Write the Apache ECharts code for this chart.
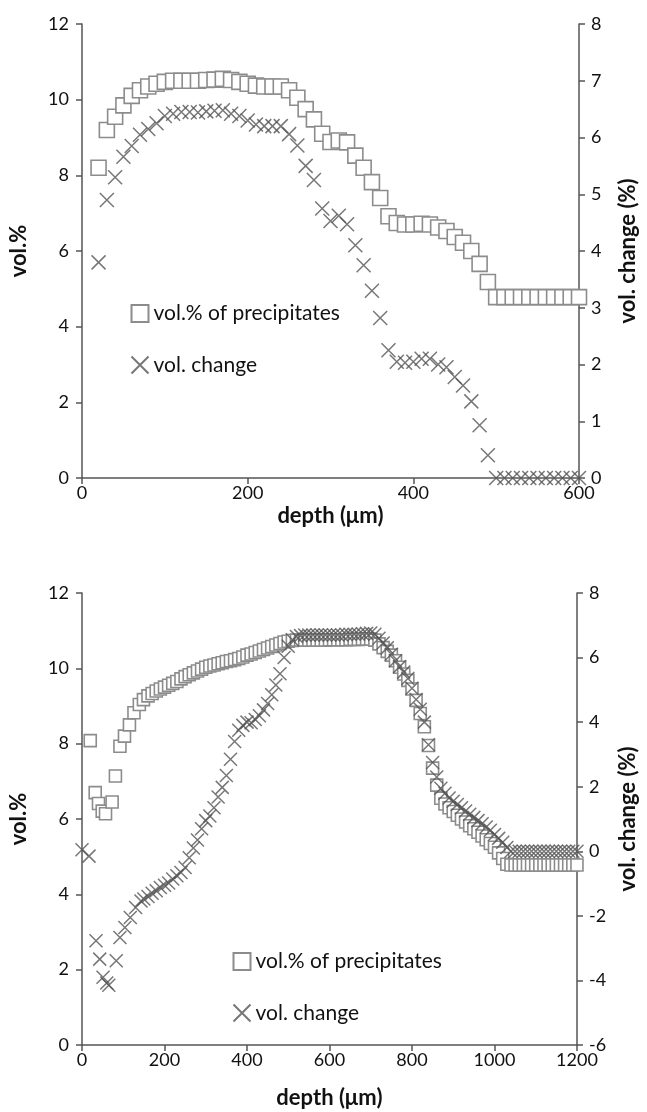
<!DOCTYPE html>
<html>
<head>
<meta charset="utf-8">
<script src="https://cdn.jsdelivr.net/npm/echarts@6/dist/echarts.min.js"></script>
<style>
html,body{margin:0;padding:0;background:#fff;}
#c{width:647px;height:1112px;}
</style>
</head>
<body>
<div id="c"></div>
<script>
// ---------- top chart data ----------
var topDepth = [20,30,40,50,60,70,80,90,100,110,120,130,140,150,160,170,180,190,200,210,220,230,240,250,260,270,280,290,300,310,320,330,340,350,360,370,380,390,400,410,420,430,440,450,460,470,480,490,500,510,520,530,540,550,560,570,580,590,600];
var topVol = [8.2,9.2,9.55,9.85,10.1,10.25,10.35,10.42,10.47,10.5,10.5,10.5,10.5,10.52,10.53,10.55,10.52,10.47,10.42,10.37,10.35,10.35,10.35,10.25,10.05,9.75,9.48,9.1,8.88,8.92,8.87,8.52,8.2,7.82,7.4,6.92,6.74,6.7,6.7,6.72,6.7,6.62,6.53,6.37,6.22,6.0,5.66,5.18,4.78,4.78,4.78,4.78,4.78,4.78,4.78,4.78,4.78,4.78,4.78];
var topChange = [3.8,4.9,5.3,5.66,5.85,6.05,6.15,6.25,6.38,6.42,6.45,6.45,6.44,6.46,6.47,6.48,6.42,6.38,6.3,6.23,6.2,6.2,6.2,6.06,5.86,5.5,5.25,4.75,4.53,4.62,4.47,4.1,3.75,3.3,2.82,2.25,2.05,2.03,2.05,2.1,2.1,2.0,1.95,1.78,1.63,1.35,0.93,0.4,0,0,0,0,0,0,0,0,0,0,0];

// ---------- bottom chart data ----------
var botVolDepth = [20,32,40,49,57,73,81,92,103,115,126,139,149,160,170,180,190,200,210,220,230,240,250,260,270,280,290,300,310,320,330,340,350,360,370,380,390,400,410,420,430,440,450,460,470,480,490,500,510,520,530,540,550,560,570,580,590,600,610,620,630,640,650,660,670,680,690,700,710,720,730,740,750,760,770,780,790,800,810,820,830,840,850,860,870,880,890,900,910,920,930,940,950,960,970,980,990,1000,1010,1020,1030,1040,1050,1060,1070,1080,1090,1100,1110,1120,1130,1140,1150,1160,1170,1180,1190,1200];
var botVol = [8.08,6.7,6.41,6.21,6.14,6.45,7.14,7.93,8.2,8.5,8.82,9.04,9.17,9.27,9.33,9.4,9.45,9.5,9.55,9.6,9.65,9.72,9.78,9.83,9.88,9.93,9.98,10.03,10.06,10.09,10.12,10.15,10.18,10.2,10.23,10.26,10.3,10.35,10.38,10.42,10.46,10.5,10.54,10.58,10.62,10.66,10.7,10.72,10.74,10.75,10.75,10.75,10.75,10.75,10.75,10.75,10.75,10.76,10.76,10.76,10.76,10.76,10.77,10.77,10.77,10.78,10.78,10.78,10.75,10.65,10.55,10.45,10.35,10.2,10.03,9.85,9.68,9.45,9.15,8.8,8.45,7.95,7.35,6.9,6.55,6.4,6.3,6.2,6.1,6.0,5.92,5.82,5.74,5.65,5.55,5.45,5.35,5.25,5.1,4.95,4.8,4.78,4.78,4.78,4.78,4.78,4.78,4.78,4.78,4.78,4.78,4.78,4.78,4.78,4.78,4.78,4.78,4.78];
var botChangeDepth = [0,17,34,43,51,60,65,83,92,104,117,130,143,150,160,170,180,190,200,210,220,230,240,250,260,270,280,290,300,310,320,330,340,350,360,370,380,390,400,410,420,430,440,450,460,470,480,490,500,510,520,530,540,550,560,570,580,590,600,610,620,630,640,650,660,670,680,690,700,710,720,730,740,750,760,770,780,790,800,810,820,830,840,850,860,870,880,890,900,910,920,930,940,950,960,970,980,990,1000,1010,1020,1030,1040,1050,1060,1070,1080,1090,1100,1110,1120,1130,1140,1150,1160,1170,1180,1190,1200];
var botChange = [0.05,-0.15,-2.77,-3.34,-3.9,-4.08,-4.15,-3.39,-2.67,-2.36,-2.05,-1.74,-1.54,-1.48,-1.4,-1.3,-1.22,-1.12,-1.05,-0.98,-0.86,-0.76,-0.66,-0.5,-0.2,0.1,0.35,0.7,0.95,1.09,1.35,1.68,1.98,2.35,2.85,3.4,3.75,3.9,4.0,3.98,4.08,4.2,4.38,4.58,4.85,5.15,5.5,6.0,6.35,6.55,6.65,6.68,6.7,6.7,6.7,6.7,6.7,6.7,6.7,6.7,6.7,6.7,6.72,6.72,6.72,6.72,6.74,6.75,6.76,6.72,6.6,6.45,6.3,6.1,5.9,5.72,5.55,5.35,5.05,4.7,4.4,4.0,3.3,2.75,2.3,1.95,1.8,1.65,1.55,1.45,1.35,1.25,1.15,1.05,0.95,0.85,0.75,0.65,0.52,0.4,0.28,0.12,0,0,0,0,0,0,0,0,0,0,0,0,0,0,0,0,0,0];

var seriesNames = ['vol.% of precipitates', 'vol. change'];
var axisNames = {x: 'depth (\u03bcm)', left: 'vol.%', right: 'vol. change (%)'};

function pairs(xs, ys){ return xs.map(function(x,i){ return [x, ys[i]]; }); }

var FONT = 'Lato';
var crossPath = 'path://M0,0L20,20M20,0L0,20';
var sqStyle = {color:'#ffffff', borderColor:'#8c8c8c', borderWidth:1.6, opacity:1};
var crStyle = {color:'none', borderColor:'#555555', borderWidth:1.5};

var axisLine = {show:true, lineStyle:{color:'#555', width:1.5}};
var axisTick = {show:true, length:6, lineStyle:{color:'#555', width:1.5}};
function lbl(margin){
  return {color:'#111', fontSize:18, fontFamily:FONT, margin:margin,
    formatter:function(v){ return String(v); }};
}
var nameStyle = {color:'#111', fontSize:22, fontWeight:'bold', fontFamily:FONT};

function xAx(grid, max, gap){
  return {type:'value', gridIndex:grid, min:0, max:max, interval:200,
    axisLine:axisLine, axisTick:axisTick, axisLabel:lbl(6),
    splitLine:{show:false}, name:axisNames.x, nameLocation:'middle', nameGap:gap, nameTextStyle:nameStyle};
}
function yAx(grid, pos, min, max, interval, name, gap, margin){
  return {type:'value', gridIndex:grid, position:pos, min:min, max:max, interval:interval,
    axisLine:axisLine, axisTick:axisTick, axisLabel:lbl(margin),
    splitLine:{show:false}, name:name, nameLocation:'middle', nameRotate:90, nameGap:gap, nameTextStyle:nameStyle};
}

var option = {
  animation:false,
  backgroundColor:'#fff',
  grid:[
    {left:79, top:24, width:506, height:454},
    {left:79, top:593, width:504, height:452}
  ],
  xAxis:[xAx(0,600,27), xAx(1,1200,42)],
  yAxis:[
    yAx(0,'left',0,12,2,axisNames.left,52,13),
    yAx(0,'right',0,8,1,axisNames.right,38,12),
    yAx(1,'left',0,12,2,axisNames.left,52,13),
    yAx(1,'right',-6,8,2,axisNames.right,38,12)
  ],
  legend:[
    {orient:'vertical', left:124, top:298, itemWidth:17, itemHeight:17, itemGap:30,
     textStyle:{fontSize:21, color:'#111', fontFamily:FONT}, data:seriesNames, selectedMode:false},
    {orient:'vertical', left:226, top:946, itemWidth:17, itemHeight:17, itemGap:30,
     textStyle:{fontSize:21, color:'#111', fontFamily:FONT}, data:seriesNames, selectedMode:false}
  ],
  series:[
    {name:seriesNames[0], type:'scatter', xAxisIndex:0, yAxisIndex:0, symbol:'rect', symbolSize:15,
     itemStyle:sqStyle, data:pairs(topDepth, topVol)},
    {name:seriesNames[1], type:'scatter', xAxisIndex:0, yAxisIndex:1, symbol:crossPath, symbolSize:14,
     itemStyle:crStyle, data:pairs(topDepth, topChange)},
    {name:seriesNames[0], type:'scatter', xAxisIndex:1, yAxisIndex:2, symbol:'rect', symbolSize:12,
     itemStyle:sqStyle, data:pairs(botVolDepth, botVol)},
    {name:seriesNames[1], type:'scatter', xAxisIndex:1, yAxisIndex:3, symbol:crossPath, symbolSize:13,
     itemStyle:crStyle, data:pairs(botChangeDepth, botChange)}
  ]
};
var chart = echarts.init(document.getElementById('c'), null, {renderer:'canvas'});
chart.setOption(option);
</script>
</body>
</html>
